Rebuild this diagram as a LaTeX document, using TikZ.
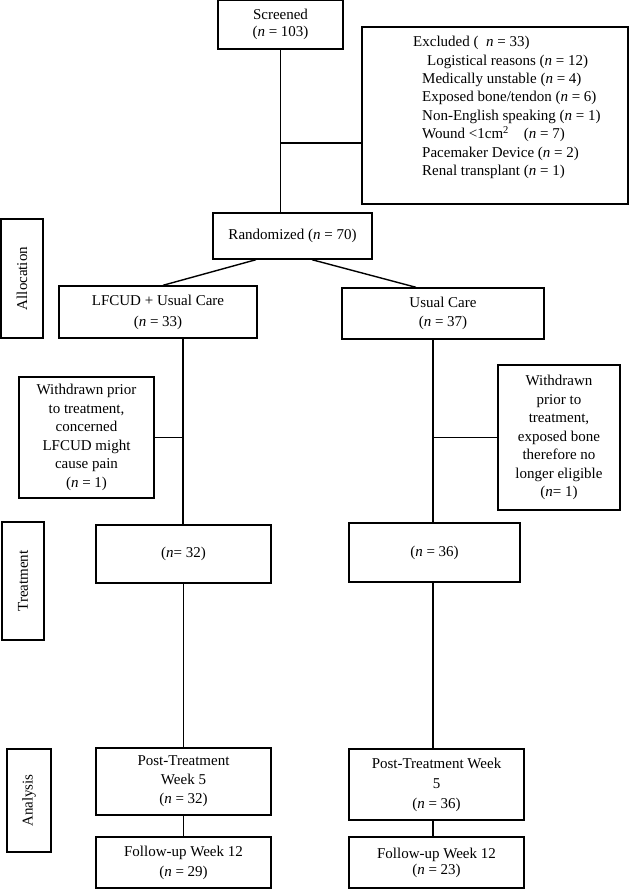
\documentclass[tikz,border=0pt]{standalone}
\usepackage{fontspec}
\setmainfont{Liberation Serif}
\usetikzlibrary{calc}
\begin{document}
\begin{tikzpicture}[x=1pt,y=-1pt,
  box/.style={draw, line width=1.4pt, inner sep=0pt, align=center, font=\fontsize{15}{18.5}\selectfont},
  conn/.style={line width=1.4pt}]
\useasboundingbox (0,0) rectangle (630,889);
% boxes
\node[box, minimum width=125, minimum height=49] (scr) at (280.5,24.5) {Screened\\[-1.5pt](\textit{n} = 103)};
\node[box, minimum width=266, minimum height=177] (excl) at (495,115.5) {};
\node[anchor=west, align=left, inner sep=0pt, font=\fontsize{15}{18.4}\selectfont] (excltxt) at (413,107.5)
  {Excluded (\hspace{0.5em}\textit{n} = 33)\\
   \hspace*{14pt}Logistical reasons (\textit{n} = 12)\\
   \hspace*{9pt}Medically unstable (\textit{n} = 4)\\
   \hspace*{9pt}Exposed bone/tendon (\textit{n} = 6)\\
   \hspace*{9pt}Non-English speaking (\textit{n} = 1)\\
   \hspace*{9pt}Wound <1cm\textsuperscript{2}\hspace{1em}(\textit{n} = 7)\\
   \hspace*{9pt}Pacemaker Device (\textit{n} = 2)\\
   \hspace*{9pt}Renal transplant (\textit{n} = 1)};
\node[box, minimum width=159, minimum height=46] (rand) at (292.5,236) {Randomized (\textit{n} = 70)};
\node[box, rotate=90, minimum width=119, minimum height=42] (alloc) at (22,278.5) {Allocation};
\node[box, minimum width=198, minimum height=52] (lfcud) at (158,312) {LFCUD + Usual Care\\[2.5pt](\textit{n} = 33)};
\node[box, minimum width=202, minimum height=51] (usual) at (443,313.5) {Usual Care\\[0.5pt](\textit{n} = 37)};
\node[box, minimum width=135, minimum height=121] (wl) at (86.5,437.5) {Withdrawn prior\\to treatment,\\concerned\\LFCUD might\\cause pain\\(\textit{n} = 1)};
\node[box, minimum width=122, minimum height=145] (wr) at (559,437.5) {Withdrawn\\prior to\\treatment,\\exposed bone\\therefore no\\longer eligible\\(\textit{n}= 1)};
\node[box, rotate=90, minimum width=118, minimum height=42] (treat) at (23,581) {Treatment};
\node[box, minimum width=175, minimum height=58] (n32) at (183.5,554) {(\textit{n}= 32)};
\node[box, minimum width=171, minimum height=59] (n36) at (434.5,552.5) {(\textit{n} = 36)};
\node[box, rotate=90, minimum width=103, minimum height=44] (anal) at (29,800.5) {Analysis};
\node[box, minimum width=175, minimum height=67] (postL) at (183.5,781.5) {Post-Treatment\\[0.5pt]Week 5\\[0.5pt](\textit{n} = 32)};
\node[box, minimum width=175, minimum height=51] (follL) at (183.5,862.5) {Follow-up Week 12\\[1.5pt](\textit{n} = 29)};
\node[box, minimum width=175, minimum height=71] (postR) at (436.5,784.5) {Post-Treatment Week\\[1.5pt]5\\[1.5pt](\textit{n} = 36)};
\node[box, minimum width=175, minimum height=51] (follR) at (436.5,862.5) {Follow-up Week 12\\[-2.5pt](\textit{n} = 23)};
% connectors
\draw[conn] (scr.south) -- (scr.south |- rand.north);
\coordinate (j1) at (280.5,143);
\draw[conn] (j1) -- (j1 -| excl.west);
\draw[conn] ([xshift=-36.5pt]rand.south) -- ([xshift=5pt]lfcud.north);
\draw[conn] ([xshift=19.5pt]rand.south) -- ([xshift=-27pt]usual.north);
\coordinate (lv) at ([xshift=25pt]lfcud.south);
\draw[conn] (lv) -- (lv |- n32.north);
\draw[conn] (wl.east) -- (wl.east -| lv);
\coordinate (rv) at ([xshift=-10pt]usual.south);
\draw[conn] (rv) -- (rv |- n36.north);
\draw[conn] (wr.west) -- (wr.west -| rv);
\draw[conn] (n32.south) -- (postL.north);
\draw[conn] (postL.south) -- (follL.north);
\draw[conn] (rv |- n36.south) -- (rv |- postR.north);
\draw[conn] (rv |- postR.south) -- (rv |- follR.north);
\end{tikzpicture}
\end{document}
